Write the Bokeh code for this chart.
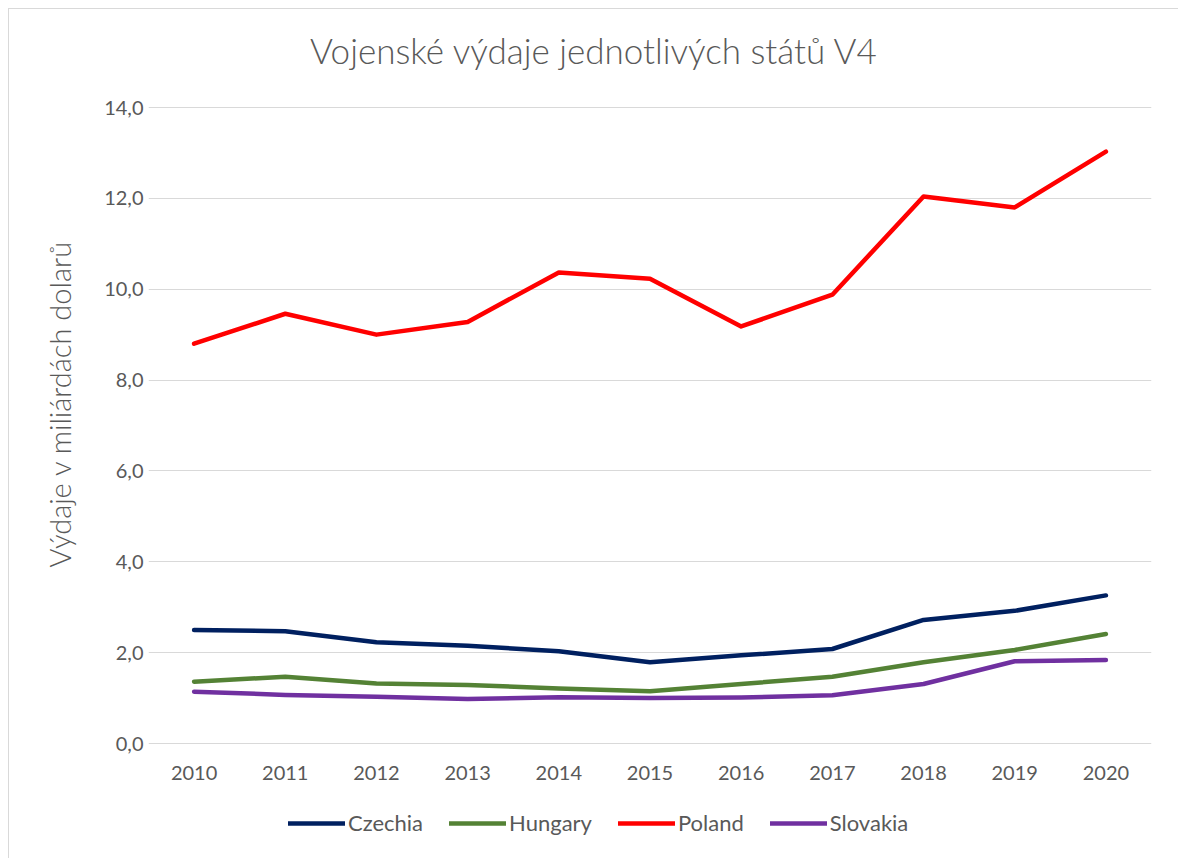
from bokeh.plotting import figure
from bokeh.models import FixedTicker, Legend, LegendItem, Title, Range1d, Label
from bokeh.embed import file_html
from bokeh.resources import INLINE

years = [2010, 2011, 2012, 2013, 2014, 2015, 2016, 2017, 2018, 2019, 2020]
czechia = [2.50, 2.47, 2.23, 2.15, 2.03, 1.79, 1.94, 2.08, 2.72, 2.92, 3.26]
hungary = [1.36, 1.47, 1.32, 1.29, 1.21, 1.15, 1.31, 1.47, 1.79, 2.06, 2.41]
poland = [8.80, 9.46, 9.00, 9.28, 10.37, 10.23, 9.18, 9.88, 12.04, 11.80, 13.03]
slovakia = [1.14, 1.07, 1.03, 0.98, 1.02, 1.00, 1.01, 1.06, 1.31, 1.81, 1.84]

series = [
    ("Czechia", czechia, "#002060"),
    ("Hungary", hungary, "#548235"),
    ("Poland", poland, "#FF0000"),
    ("Slovakia", slovakia, "#7030A0"),
]
y_ticks = [0, 2, 4, 6, 8, 10, 12, 14]
title_text = "Vojenské výdaje jednotlivých států V4"
ylabel_text = "Výdaje v miliárdách dolarů"

FONT = "Lato"
LIGHT = "'Lato Light', Lato, sans-serif"
GREY = "#595959"

# layout (pixels). The frame spans the full height; 0..14 occupies 636 px
W, H = 1170, 850
LEFT, RIGHT = 139, 28
ROOM_ABOVE, AREA_H = 98, 636
ROOM_BELOW = H - ROOM_ABOVE - AREA_H
px_per_unit = AREA_H / 14
y_min = -ROOM_BELOW / px_per_unit
y_max = 14 + ROOM_ABOVE / px_per_unit

p = figure(width=W, height=H, output_backend="svg", toolbar_location=None,
           x_range=Range1d(years[0] - 0.5, years[-1] + 0.5),
           y_range=Range1d(y_min, y_max),
           min_border_left=LEFT, min_border_right=RIGHT, min_border_top=0,
           min_border_bottom=0, title=None)
p.styles = {"margin-left": "8px", "margin-top": "8px",
            "border-left": "1px solid #d9d9d9", "border-top": "1px solid #d9d9d9"}
p.outline_line_color = None
p.background_fill_color = "white"
p.border_fill_color = "white"

title = Label(text=title_text, x=446, y=H - 40, x_units="screen", y_units="screen",
              text_align="center", text_baseline="alphabetic",
              text_font=LIGHT, text_font_size="35px", text_color=GREY)
p.add_layout(title)

ylab = Title(text=ylabel_text, align="right",
             text_font=LIGHT, text_font_size="29px", text_font_style="normal",
             text_color=GREY, offset=231, standoff=50)
p.add_layout(ylab, "left")

p.xgrid.grid_line_color = None
p.ygrid.grid_line_color = "#d9d9d9"
p.ygrid.grid_line_width = 1
p.ygrid.ticker = FixedTicker(ticks=y_ticks)

p.yaxis.ticker = FixedTicker(ticks=y_ticks)
p.yaxis.major_label_overrides = {v: f"{v},0" for v in y_ticks}
p.xaxis.ticker = FixedTicker(ticks=years)
p.xaxis.fixed_location = 0
for ax in (p.xaxis[0], p.yaxis[0]):
    ax.axis_line_color = None
    ax.major_tick_line_color = None
    ax.minor_tick_line_color = None
    ax.major_tick_out = 0
    ax.major_tick_in = 0
    ax.major_label_text_font = FONT
    ax.major_label_text_font_size = "20px"
    ax.major_label_text_color = GREY
p.xaxis.major_label_standoff = 22
p.yaxis.major_label_standoff = 5

items = []
for name, vals, col in series:
    r = p.line(years, vals, line_color=col, line_width=4.5, line_cap="round",
               line_join="round")
    items.append(LegendItem(label=name, renderers=[r]))

legend = Legend(items=items, orientation="horizontal", location=(140, 23),
                glyph_width=57, glyph_height=20, label_height=20,
                label_standoff=3, spacing=26,
                padding=0, margin=0, border_line_color=None,
                background_fill_alpha=0,
                label_text_font=FONT, label_text_font_size="22px",
                label_text_color=GREY)
p.add_layout(legend, "center")

open("out.html", "w").write(file_html(p, INLINE))
